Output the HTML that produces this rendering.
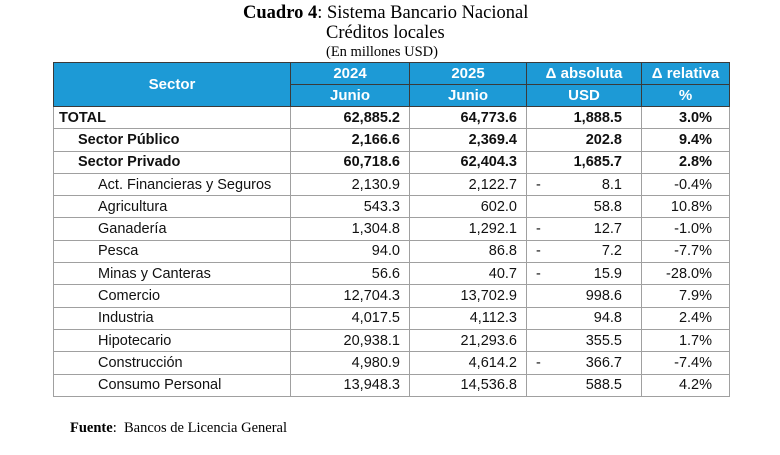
<!DOCTYPE html>
<html><head><meta charset="utf-8"><style>
body{margin:0;width:780px;height:455px;background:#fff;position:relative;font-family:"Liberation Sans",sans-serif;overflow:hidden}
.t{position:absolute;font-family:"Liberation Serif",serif;color:#000;white-space:nowrap}
table{position:absolute;left:53px;top:62px;border-collapse:collapse;table-layout:fixed;font-size:14.5px}
td{border:1px solid #a0a0a0;padding:0;height:21.3px;white-space:nowrap;overflow:visible;color:#111}
thead td{background:#1d9ad6;color:#fff;font-weight:bold;text-align:center;border-color:#3a3a3a;height:21px;font-size:15px}
.n{text-align:right;padding-right:9px}
.a{text-align:right;padding-right:19px;position:relative}
.r{text-align:right;padding-right:17px}
.b td{font-weight:bold}
.m{position:absolute;left:9px}
table{border:1px solid #333}
</style></head><body>
<div class="t" style="left:243px;top:3px;font-size:18.5px"><b>Cuadro 4</b>: Sistema Bancario Nacional</div>
<div class="t" style="left:326px;top:23px;font-size:18.5px">Créditos locales</div>
<div class="t" style="left:326px;top:44px;font-size:14.5px">(En millones USD)</div>
<table>
<colgroup><col style="width:237px"><col style="width:119px"><col style="width:117px"><col style="width:115px"><col style="width:88px"></colgroup>
<thead>
<tr><td rowspan="2">Sector</td><td>2024</td><td>2025</td><td>Δ absoluta</td><td>Δ relativa</td></tr>
<tr><td>Junio</td><td>Junio</td><td>USD</td><td>%</td></tr>
</thead>
<tbody>
<tr class="b"><td style="padding-left:5px">TOTAL</td><td class="n">62,885.2</td><td class="n">64,773.6</td><td class="a">1,888.5</td><td class="r">3.0%</td></tr>
<tr class="b"><td style="padding-left:24px">Sector Público</td><td class="n">2,166.6</td><td class="n">2,369.4</td><td class="a">202.8</td><td class="r">9.4%</td></tr>
<tr class="b"><td style="padding-left:24px">Sector Privado</td><td class="n">60,718.6</td><td class="n">62,404.3</td><td class="a">1,685.7</td><td class="r">2.8%</td></tr>
<tr><td style="padding-left:44px">Act. Financieras y Seguros</td><td class="n">2,130.9</td><td class="n">2,122.7</td><td class="a"><span class="m">-</span>8.1</td><td class="r">-0.4%</td></tr>
<tr><td style="padding-left:44px">Agricultura</td><td class="n">543.3</td><td class="n">602.0</td><td class="a">58.8</td><td class="r">10.8%</td></tr>
<tr><td style="padding-left:44px">Ganadería</td><td class="n">1,304.8</td><td class="n">1,292.1</td><td class="a"><span class="m">-</span>12.7</td><td class="r">-1.0%</td></tr>
<tr><td style="padding-left:44px">Pesca</td><td class="n">94.0</td><td class="n">86.8</td><td class="a"><span class="m">-</span>7.2</td><td class="r">-7.7%</td></tr>
<tr><td style="padding-left:44px">Minas y Canteras</td><td class="n">56.6</td><td class="n">40.7</td><td class="a"><span class="m">-</span>15.9</td><td class="r">-28.0%</td></tr>
<tr><td style="padding-left:44px">Comercio</td><td class="n">12,704.3</td><td class="n">13,702.9</td><td class="a">998.6</td><td class="r">7.9%</td></tr>
<tr><td style="padding-left:44px">Industria</td><td class="n">4,017.5</td><td class="n">4,112.3</td><td class="a">94.8</td><td class="r">2.4%</td></tr>
<tr><td style="padding-left:44px">Hipotecario</td><td class="n">20,938.1</td><td class="n">21,293.6</td><td class="a">355.5</td><td class="r">1.7%</td></tr>
<tr><td style="padding-left:44px">Construcción</td><td class="n">4,980.9</td><td class="n">4,614.2</td><td class="a"><span class="m">-</span>366.7</td><td class="r">-7.4%</td></tr>
<tr><td style="padding-left:44px">Consumo Personal</td><td class="n">13,948.3</td><td class="n">14,536.8</td><td class="a">588.5</td><td class="r">4.2%</td></tr>
</tbody>
</table>
<div class="t" style="left:70px;top:420px;font-size:14.5px"><b>Fuente</b>:&nbsp; Bancos de Licencia General</div>
</body></html>
